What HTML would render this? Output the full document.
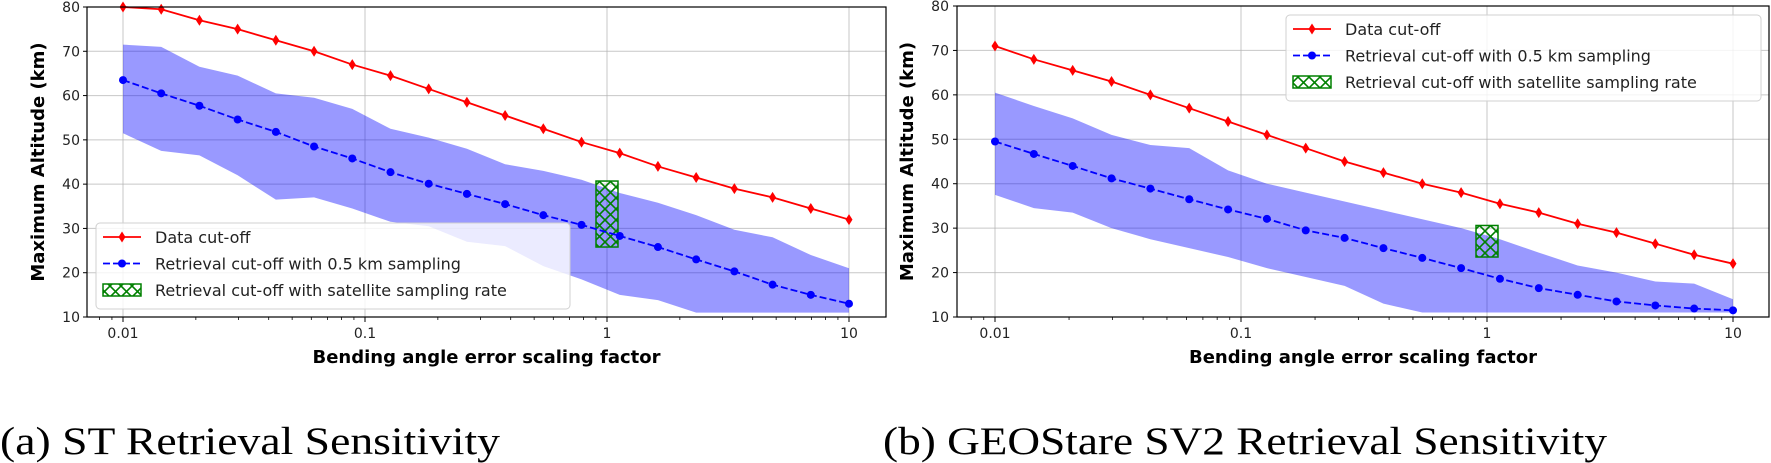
<!DOCTYPE html>
<html><head><meta charset="utf-8"><style>
html,body{margin:0;padding:0;background:#fff;}
svg{display:block;}
text{font-family:"DejaVu Sans","Liberation Sans",sans-serif;}
.cap{font-family:"Liberation Serif",serif;}
</style></head><body>
<svg id="fig" width="1771" height="463" viewBox="0 0 1771 463" xmlns="http://www.w3.org/2000/svg">
<defs>
<pattern id="hatch" width="11" height="11" patternUnits="userSpaceOnUse">
<path d="M0,0 L11,11 M11,0 L0,11" stroke="#008000" stroke-width="1.6" fill="none"/>
</pattern>
</defs>
<g id="panelA"></g>
<g id="panelB"></g>
<text class="cap" x="0" y="454" font-size="39" textLength="500" lengthAdjust="spacingAndGlyphs">(a) ST Retrieval Sensitivity</text>
<text class="cap" x="883" y="454" font-size="39" textLength="724" lengthAdjust="spacingAndGlyphs">(b) GEOStare SV2 Retrieval Sensitivity</text>
</svg>
<script>
const nPoints = 20;
const yTicks = [10,20,30,40,50,60,70,80];
const xTickVals = [0.01,0.1,1,10];
const xTickLabels = ["0.01","0.1","1","10"];
// Panel A data
const aData = [80,79.5,77,75,72.5,70,67,64.5,61.5,58.5,55.5,52.5,49.5,47,44,41.5,39,37,34.5,32];
const aRetr = [63.5,60.5,57.7,54.6,51.8,48.5,45.8,42.7,40.1,37.8,35.5,33,30.8,28.3,25.8,23,20.3,17.3,15,13];
const aUpper = [71.5,71,66.5,64.5,60.5,59.5,57,52.5,50.5,48,44.5,43,41,38,35.8,33,29.7,28,24,21];
const aLower = [51.5,47.5,46.5,42,36.5,37,34.5,31.5,30.5,27,26,21.5,18.5,15,13.8,11,11,11,11,11];
const aSat = [25.8,40.7];
// Panel B data
const bData = [71,68,65.5,63,60,57,54,51,48,45,42.5,40,38,35.5,33.5,31,29,26.5,24,22];
const bRetr = [49.5,46.7,44,41.2,38.9,36.5,34.2,32.1,29.5,27.8,25.5,23.3,21,18.6,16.5,15,13.5,12.6,11.9,11.5];
const bUpper = [60.5,57.5,54.7,51,48.7,48,43,40,38,36,34,32,30,27.5,24.5,21.6,20,18,17.5,14];
const bLower = [37.5,34.5,33.5,30,27.5,25.5,23.5,21,19,17,13,11,11,11,11,11,11,11,11,11];
const bSat = [23.5,30.6];

const NS="http://www.w3.org/2000/svg";
function mk(parent,tag,attrs){const e=document.createElementNS(NS,tag);for(const k in attrs)e.setAttribute(k,attrs[k]);parent.appendChild(e);return e;}

function panel(g,cfg){
  const {L,R,T,B,x0,x10,data,retr,upper,lower,sat,legend,yLabX,yTickX} = cfg;
  const dec=(x10-x0)/3;
  const X=v=>x0+(Math.log10(v)+2)*dec;
  const Y=v=>B-(v-10)*(B-T)/70;
  const xs=[];for(let i=0;i<nPoints;i++)xs.push(Math.pow(10,-2+3*i/(nPoints-1)));
  yTicks.forEach(v=>{const l=mk(g,'line',{x1:L,x2:R,y1:Y(v),y2:Y(v),stroke:'#b0b0b0','stroke-width':1,opacity:0.7});
    
    });
  xTickVals.forEach(v=>{const l=mk(g,'line',{x1:X(v),x2:X(v),y1:T,y2:B,stroke:'#b0b0b0','stroke-width':1,opacity:0.7});
    
    });
  let d='';xs.forEach((x,i)=>{d+=(i?'L':'M')+X(x)+','+Y(upper[i]);});
  for(let i=nPoints-1;i>=0;i--)d+='L'+X(xs[i])+','+Y(lower[i]);
  const band=mk(g,'path',{d:d+'Z',fill:'#0000ff','fill-opacity':0.4});
  
  
  const sb=mk(g,'rect',{x:X(1)-11,y:Y(sat[1]),width:22,height:Y(sat[0])-Y(sat[1]),fill:'url(#hatch)',stroke:'#008000','stroke-width':1.5});
  
  
  const rp=mk(g,'polyline',{points:xs.map((x,i)=>X(x)+','+Y(data[i])).join(' '),fill:'none',stroke:'#ff0000','stroke-width':1.8});
  
  
  xs.forEach((x,i)=>{const cx=X(x),cy=Y(data[i]);
    const m=mk(g,'path',{d:`M${cx},${cy-5.5}L${cx+3.5},${cy}L${cx},${cy+5.5}L${cx-3.5},${cy}Z`,fill:'#ff0000'});
    
    });
  const bp=mk(g,'polyline',{points:xs.map((x,i)=>X(x)+','+Y(retr[i])).join(' '),fill:'none',stroke:'#0000ff','stroke-width':1.8,'stroke-dasharray':'7,3'});
  
  
  xs.forEach((x,i)=>{const c=mk(g,'circle',{cx:X(x),cy:Y(retr[i]),r:4,fill:'#0000ff'});
    
    });
  const sp=mk(g,'rect',{x:L,y:T,width:R-L,height:B-T,fill:'none',stroke:'#000','stroke-width':1.2});
  
  
  yTicks.forEach(v=>{mk(g,'line',{x1:L-4,x2:L,y1:Y(v),y2:Y(v),stroke:'#000'});
    const t=mk(g,'text',{x:yTickX,y:Y(v)+5,'font-size':14,'text-anchor':'end',fill:'#222'});t.textContent=v;
    
    });
  xTickVals.forEach((v,i)=>{mk(g,'line',{x1:X(v),x2:X(v),y1:B,y2:B+5,stroke:'#000'});
    const t=mk(g,'text',{x:X(v),y:B+21,'font-size':14,'text-anchor':'middle',fill:'#222'});t.textContent=xTickLabels[i];
    
    });
  for(let e=-3;e<=1;e++)for(let k=2;k<=9;k++){const v=k*Math.pow(10,e);const px=X(v);if(px>L&&px<R)mk(g,'line',{x1:px,x2:px,y1:B,y2:B+3,stroke:'#000','stroke-width':0.8});}
  const xt=mk(g,'text',{x:(L+R)/2,y:B+46,'font-size':18,'font-weight':'bold','text-anchor':'middle',fill:'#000'});
  xt.textContent='Bending angle error scaling factor';
  
  
  const yt=mk(g,'text',{x:0,y:0,'font-size':18,'font-weight':'bold','text-anchor':'middle',fill:'#000',transform:`translate(${yLabX},${(T+B)/2}) rotate(-90)`});
  yt.textContent='Maximum Altitude (km)';
  
  
  const lg=mk(g,'g',{});
  
  
  mk(lg,'rect',{x:legend.x,y:legend.y,width:legend.w,height:legend.h,rx:4,fill:'#fff','fill-opacity':0.8,stroke:'#d0d0d0'});
  const hx=legend.x+7, tx=legend.x+59, e0=legend.y+14, sp2=26.5;
  const names=['Data cut-off','Retrieval cut-off with 0.5 km sampling','Retrieval cut-off with satellite sampling rate'];
  mk(lg,'line',{x1:hx,x2:hx+38,y1:e0,y2:e0,stroke:'#ff0000','stroke-width':1.8});
  mk(lg,'path',{d:`M${hx+19},${e0-5.5}L${hx+22.5},${e0}L${hx+19},${e0+5.5}L${hx+15.5},${e0}Z`,fill:'#ff0000'});
  mk(lg,'line',{x1:hx,x2:hx+38,y1:e0+sp2,y2:e0+sp2,stroke:'#0000ff','stroke-width':1.8,'stroke-dasharray':'7,3'});
  mk(lg,'circle',{cx:hx+19,cy:e0+sp2,r:4,fill:'#0000ff'});
  mk(lg,'rect',{x:hx,y:e0+2*sp2-6,width:38,height:12,fill:'url(#hatch)',stroke:'#008000','stroke-width':1.5});
  names.forEach((n,i)=>{const t=mk(lg,'text',{x:tx,y:e0+i*sp2+6,'font-size':16,fill:'#222'});t.textContent=n;
    
    });
}
panel(document.getElementById('panelA'),{L:87,R:886,T:7,B:317,x0:123,x10:849,data:aData,retr:aRetr,upper:aUpper,lower:aLower,sat:aSat,
  legend:{x:96,y:223,w:474,h:86},yLabX:44,yTickX:80});
panel(document.getElementById('panelB'),{L:957,R:1769,T:6,B:317,x0:995,x10:1733,data:bData,retr:bRetr,upper:bUpper,lower:bLower,sat:bSat,
  legend:{x:1286,y:15,w:475,h:86},yLabX:913,yTickX:949});
</script>
</body></html>
